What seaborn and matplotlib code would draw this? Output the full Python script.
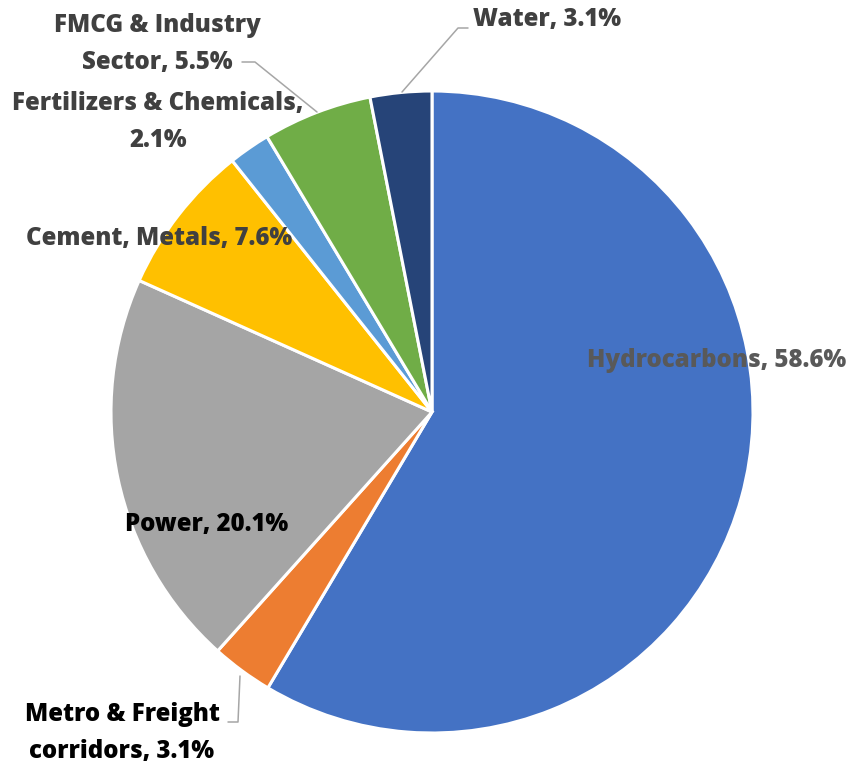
import matplotlib
matplotlib.use("Agg")
import matplotlib.pyplot as plt
import seaborn as sns

sns.set_theme(style="white")
plt.rcParams['font.family'] = ['Open Sans', 'DejaVu Sans']

categories = ["Hydrocarbons", "Metro & Freight\ncorridors", "Power", "Cement, Metals",
              "Fertilizers & Chemicals,\n", "FMCG & Industry\nSector", "Water"]
values = [58.6, 3.1, 20.1, 7.6, 2.1, 5.5, 3.1]
colors = ["#4472C4", "#ED7D31", "#A5A5A5", "#FFC000", "#5B9BD5", "#70AD47", "#264478"]
label_texts = ["Hydrocarbons, 58.6%", "Metro & Freight\ncorridors, 3.1%", "Power, 20.1%",
               "Cement, Metals, 7.6%", "Fertilizers & Chemicals,\n2.1%",
               "FMCG & Industry\nSector, 5.5%", "Water, 3.1%"]
label_colors = ["#595959", "#000000", "#000000", "#404040", "#404040", "#404040", "#404040"]

W, H = 854, 766
CX, CY, R = 432, 412, 321
fig = plt.figure(figsize=(W / 100, H / 100), dpi=100)
ax = fig.add_axes([0, 0, 1, 1])

def px(x, y):
    return ((x - CX) / R, (CY - y) / R)

ax.pie(values, colors=colors, startangle=90, counterclock=False,
       wedgeprops=dict(edgecolor="white", linewidth=2.2), radius=1.0)

label_pos = [(717, 361), (122, 733), (207, 525), (159, 239), (158, 122), (157, 44), (547, 20)]
for txt, (lx, ly), c in zip(label_texts, label_pos, label_colors):
    x, y = px(lx, ly)
    ax.text(x, y, txt, ha="center", va="center", fontsize=17.3, fontweight="heavy",
            color=c, linespacing=1.62)

leaders = [
    [(228, 722), (238, 722), (240, 676)],
    [(242, 62), (255, 62), (317, 112)],
    [(468, 28), (458, 28), (402, 92)],
]
for pts in leaders:
    xs, ys = zip(*[px(a, b) for a, b in pts])
    ax.plot(xs, ys, color="#A6A6A6", linewidth=1.1)

ax.set_xlim(-CX / R, (W - CX) / R)
ax.set_ylim((CY - H) / R, CY / R)
ax.set_aspect("equal")
ax.axis("off")
fig.savefig("out.png", dpi=100)
